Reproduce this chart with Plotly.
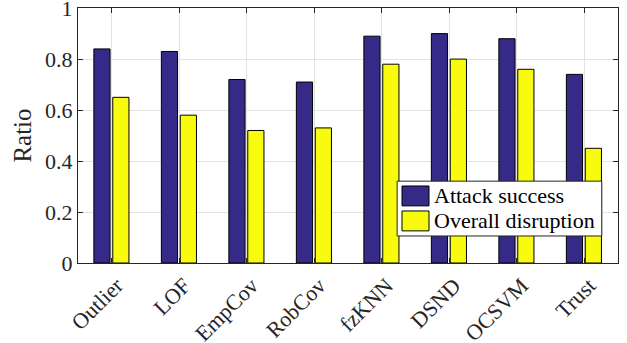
import plotly.graph_objects as go

categories = ["Outlier", "LOF", "EmpCov", "RobCov", "fzKNN", "DSND", "OCSVM", "Trust"]
attack_success = [0.84, 0.83, 0.72, 0.71, 0.89, 0.90, 0.88, 0.74]
overall_disruption = [0.65, 0.58, 0.52, 0.53, 0.78, 0.80, 0.76, 0.45]
series_names = ["Attack success", "Overall disruption"]
series_colors = ["#352a87", "#f9fb0e"]
y_ticks = [0, 0.2, 0.4, 0.6, 0.8, 1]

FONT = "Liberation Serif"
TXT = "#262626"

fig = go.Figure()
xs = list(range(1, len(categories) + 1))
for vals, name, col, off in [(attack_success, series_names[0], series_colors[0], -0.265),
                             (overall_disruption, series_names[1], series_colors[1], 0.015)]:
    fig.add_trace(go.Bar(x=xs, y=vals, name=name, marker=dict(color=col, line=dict(color="black", width=1)),
                         width=0.24, offset=off, showlegend=False))

axis_common = dict(showline=True, linecolor=TXT, linewidth=1, mirror="ticks", ticks="inside",
                   ticklen=5, tickcolor=TXT, showgrid=True, gridcolor="#e3e3e3", gridwidth=1,
                   tickfont=dict(family=FONT, size=22, color=TXT), zeroline=False, automargin=False,
                   ticklabeloverflow="allow")

fig.update_xaxes(range=[0.5, 8.5], tickvals=xs, ticktext=categories, tickangle=-45,
                 ticklabelshift=5, **axis_common)
fig.update_yaxes(range=[0, 1.0005], tickvals=y_ticks, ticktext=[("%g" % v) for v in y_ticks],
                 title=dict(text="Ratio", font=dict(family=FONT, size=25, color=TXT), standoff=6),
                 **axis_common)

# manual MATLAB-style legend
lx0, lx1, ly0, ly1 = 0.591, 0.97, 0.321, 0.106
fig.add_shape(type="rect", xref="paper", yref="paper", x0=lx0, x1=lx1, y0=ly1, y1=ly0,
              line=dict(color=TXT, width=1), fillcolor="white", layer="above")
rows = [(0.302, 0.224), (0.204, 0.126)]
for (top, bot), name, col in zip(rows, series_names, series_colors):
    fig.add_shape(type="rect", xref="paper", yref="paper", x0=0.600, x1=0.650, y0=bot, y1=top,
                  line=dict(color="black", width=1), fillcolor=col, layer="above")
    fig.add_annotation(xref="paper", yref="paper", x=0.655, y=(top + bot) / 2, text=name,
                       showarrow=False, xanchor="left", yanchor="middle",
                       font=dict(family=FONT, size=22, color="black"))

fig.update_layout(width=627, height=343, margin=dict(l=78, r=9, t=8, b=80),
                  plot_bgcolor="white", paper_bgcolor="white", barmode="overlay",
                  font=dict(family=FONT, color=TXT))
fig.write_html("out.html", config={"displayModeBar": False},
               post_script="document.body.style.margin='0';document.body.style.overflow='hidden';")
